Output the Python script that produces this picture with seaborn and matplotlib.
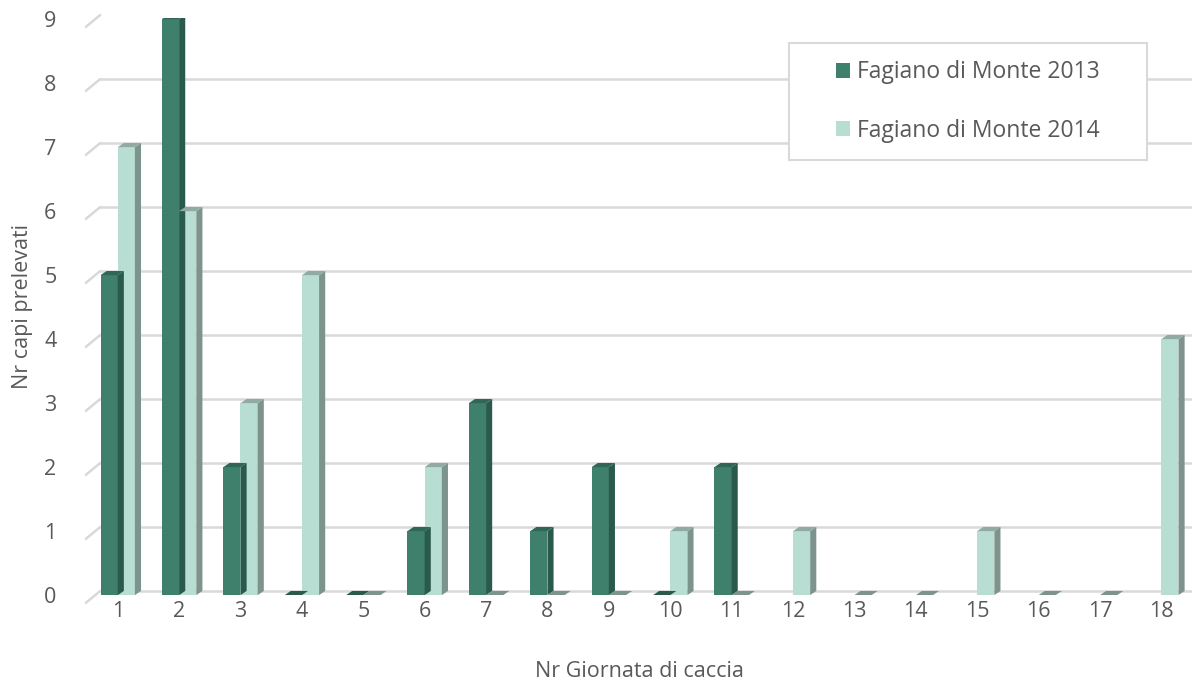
import numpy as np
import pandas as pd
import matplotlib
matplotlib.use("Agg")
import matplotlib.pyplot as plt
from matplotlib.patches import Polygon, Rectangle
from matplotlib.transforms import blended_transform_factory
from matplotlib.lines import Line2D
import seaborn as sns

giornate = [str(i) for i in range(1, 19)]
v2013 = [5, 9, 2, 0, 0, 1, 3, 1, 2, 0, 2, np.nan, np.nan, np.nan, np.nan, np.nan, np.nan, np.nan]
v2014 = [7, 6, 3, 5, 0, 2, 0, 0, 0, 1, 0, 1, 0, 0, 1, 0, 0, 4]
series = ["Fagiano di Monte 2013", "Fagiano di Monte 2014"]
y_ticks = list(range(0, 10))

front = {series[0]: "#3f806c", series[1]: "#b8ddd3"}
side = {series[0]: "#2a5a4b", series[1]: "#7d948c"}
top = {series[0]: "#2f6656", series[1]: "#91aba2"}

rows = []
for g, a, b in zip(giornate, v2013, v2014):
    if not np.isnan(a):
        rows.append((g, series[0], a))
    if not np.isnan(b):
        rows.append((g, series[1], b))
df = pd.DataFrame(rows, columns=["giornata", "serie", "valore"])

sns.set_theme(style="white")
plt.rcParams["font.family"] = ["Open Sans", "DejaVu Sans"]
txt = "#595959"
fs = 15.5

fig = plt.figure(figsize=(11.92, 6.88), dpi=100)
ax = fig.add_axes([0.073, 0.135, 0.927, 0.839])

sns.barplot(data=df, x="giornata", y="valore", hue="serie", order=giornate,
            hue_order=series, palette=front, width=0.56, errorbar=None,
            saturation=1, ax=ax, zorder=3, linewidth=0)

dx, dy = 0.1, 0.065
for cont, s in zip(ax.containers, series):
    for p in cont.patches:
        h = p.get_height()
        if np.isnan(h):
            continue
        x0 = p.get_x(); w = p.get_width()
        if h > 0:
            ax.add_patch(Polygon([(x0 + w, 0), (x0 + w + dx, dy), (x0 + w + dx, h + dy), (x0 + w, h)],
                                 closed=True, facecolor=side[s], edgecolor="none", zorder=3))
            ax.add_patch(Polygon([(x0, h), (x0 + dx, h + dy), (x0 + w + dx, h + dy), (x0 + w, h)],
                                 closed=True, facecolor=top[s], edgecolor="none", zorder=3))
        else:
            ax.add_patch(Polygon([(x0, 0), (x0 + dx, dy), (x0 + w + dx, dy), (x0 + w, 0)],
                                 closed=True, facecolor=side[s], edgecolor="none", zorder=3))

ax.set_xlim(-0.5, len(giornate) - 0.5)
ax.set_ylim(0, 9.02)
ax.set_yticks(y_ticks)
ax.set_yticklabels([str(t) for t in y_ticks])
for sp in ax.spines.values():
    sp.set_visible(False)

trans = blended_transform_factory(ax.transAxes, ax.transData)
for t in y_ticks:
    ax.axhline(t + dy, xmin=0.012, xmax=1, color="#d9d9d9", lw=1.8, zorder=1)
    ax.add_line(Line2D([-0.001, 0.012], [t - 0.12, t + dy], transform=trans,
                       color="#d9d9d9", lw=1.8, clip_on=False, zorder=1))

ax.tick_params(axis="both", length=0, labelsize=fs, colors=txt)
ax.tick_params(axis="y", pad=22)
ax.tick_params(axis="x", pad=4)
ax.set_xlabel("Nr Giornata di caccia", fontsize=fs, color=txt, labelpad=28)
ax.set_ylabel("Nr capi prelevati", fontsize=fs, color=txt, labelpad=8)

# legend box
W, H = 1192, 688
bx0, by0, bx1, by1 = 789, 43, 1147, 160
ax.add_patch(Rectangle((bx0 / W, 1 - by1 / H), (bx1 - bx0) / W, (by1 - by0) / H,
                       transform=fig.transFigure, facecolor="white", clip_on=False,
                       edgecolor="#d9d9d9", lw=1.5, zorder=5))
leg = ax.legend(loc="center", bbox_to_anchor=((bx0 + bx1) / 2 / W, 1 - (by0 + by1) / 2 / H),
                bbox_transform=fig.transFigure, frameon=False, fontsize=16.5,
                handlelength=0.62, handleheight=0.62, handletextpad=0.3,
                labelspacing=1.5, borderpad=0, borderaxespad=0, title=None)
leg.set_zorder(6)
for t in leg.get_texts():
    t.set_color(txt)

fig.savefig("out.png", dpi=100, facecolor="white")
